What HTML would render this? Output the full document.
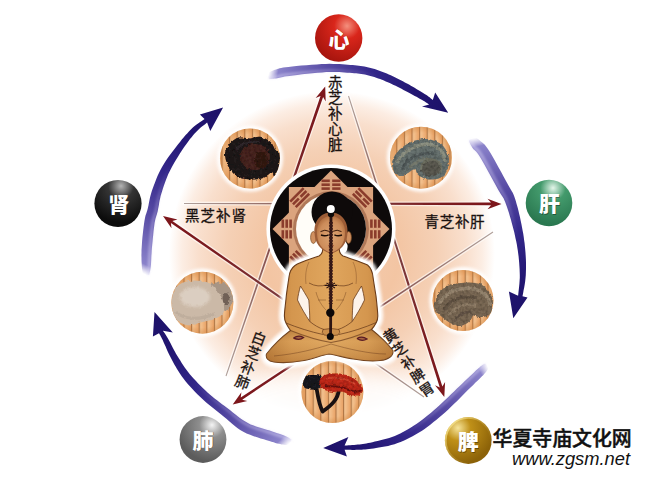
<!DOCTYPE html>
<html lang="zh"><head><meta charset="utf-8"><title>灵芝五行养生图</title>
<style>
html,body{margin:0;padding:0;background:#fff}
body{width:650px;height:477px;overflow:hidden;position:relative;font-family:"Liberation Sans","Noto Sans CJK SC",sans-serif}
svg{position:absolute;left:0;top:0;display:block}
.lb{font-family:"Liberation Sans","Noto Sans CJK SC",sans-serif;fill:#1a1210;font-weight:400;stroke:#1a1210;stroke-width:.3px}
.bt{font-family:"Liberation Sans","Noto Sans CJK SC",sans-serif;font-weight:900;font-size:21px}
.wm{font-family:"Liberation Sans","Noto Sans CJK SC",sans-serif;font-weight:500;font-size:19.9px;fill:#111}
.url{font-family:"Liberation Sans",sans-serif;font-style:italic;font-size:18px;fill:#111}
</style></head><body>
<svg width="650" height="477" viewBox="0 0 650 477">
<defs>
<filter id="b05" x="-10%" y="-10%" width="120%" height="120%"><feGaussianBlur stdDeviation=".6"/></filter>
<filter id="b1" x="-20%" y="-20%" width="140%" height="140%"><feGaussianBlur stdDeviation="1"/></filter>
<filter id="b10" x="-40%" y="-60%" width="180%" height="220%"><feGaussianBlur stdDeviation="11"/></filter>
<filter id="b2" x="-20%" y="-20%" width="140%" height="140%"><feGaussianBlur stdDeviation="1.8"/></filter>
<filter id="rough" x="-5%" y="-5%" width="110%" height="110%"><feTurbulence type="fractalNoise" baseFrequency=".35" numOctaves="2" seed="4" result="n"/><feDisplacementMap in="SourceGraphic" in2="n" scale="3.5" xChannelSelector="R" yChannelSelector="G" result="d"/><feColorMatrix in="n" type="matrix" values="0 0 0 0 0  0 0 0 0 0  0 0 0 0 0  .9 0 0 0 -.32" result="na"/><feComposite in="na" in2="d" operator="in" result="sp"/><feMerge><feMergeNode in="d"/><feMergeNode in="sp"/></feMerge><feGaussianBlur stdDeviation=".5"/></filter>
<filter id="rough2" x="-5%" y="-5%" width="110%" height="110%"><feTurbulence type="fractalNoise" baseFrequency=".3" numOctaves="2" seed="7" result="n"/><feDisplacementMap in="SourceGraphic" in2="n" scale="3" xChannelSelector="R" yChannelSelector="G"/><feGaussianBlur stdDeviation=".6"/></filter>
<radialGradient id="disc" gradientUnits="userSpaceOnUse" cx="332" cy="254" r="163"><stop offset="0" stop-color="#f5ceb2"/><stop offset=".41" stop-color="#f3c5a3"/><stop offset=".64" stop-color="#f5d0b5"/><stop offset=".82" stop-color="#f9dfcd"/><stop offset=".92" stop-color="#fcede3"/><stop offset="1" stop-color="#fff"/></radialGradient>
<linearGradient id="sg" x1="0" y1="0" x2="1" y2="0"><stop offset="0" stop-color="#f5c898"/><stop offset=".45" stop-color="#f1bb86"/><stop offset="1" stop-color="#e9a266"/></linearGradient><pattern id="stripes" patternUnits="userSpaceOnUse" x="1.1" y="0" width="7.6" height="10"><rect width="7.6" height="10" fill="url(#sg)"/><rect x="0" width="1.1" height="10" fill="#ad7444"/></pattern>
<linearGradient id="grim" gradientUnits="userSpaceOnUse" x1="448" y1="422" x2="480" y2="452"><stop offset="0" stop-color="#f4e08a" stop-opacity=".95"/><stop offset=".5" stop-color="#f4e08a" stop-opacity=".25"/><stop offset="1" stop-color="#f4e08a" stop-opacity="0"/></linearGradient>
<radialGradient id="mshade" cx=".5" cy=".5" r=".5"><stop offset=".8" stop-color="#c87830" stop-opacity="0"/><stop offset="1" stop-color="#c87830" stop-opacity=".35"/></radialGradient>
<linearGradient id="skin" x1="0" y1="0" x2="1" y2="0"><stop offset="0" stop-color="#b27232"/><stop offset=".2" stop-color="#d4964e"/><stop offset=".5" stop-color="#e0a65e"/><stop offset=".8" stop-color="#d4964e"/><stop offset="1" stop-color="#b27232"/></linearGradient>
<linearGradient id="legs" x1="0" y1="0" x2="0" y2="1"><stop offset="0" stop-color="#8a5424" stop-opacity=".35"/><stop offset=".35" stop-color="#e0ae68" stop-opacity=".3"/><stop offset="1" stop-color="#a86c30" stop-opacity=".45"/></linearGradient>
<radialGradient id="face" cx=".5" cy=".55" r=".6"><stop offset="0" stop-color="#dda472"/><stop offset=".7" stop-color="#cc8c5a"/><stop offset="1" stop-color="#aa6638"/></radialGradient>
<linearGradient id="ga1" gradientUnits="userSpaceOnUse" x1="268" y1="76.3" x2="448.2" y2="112.8">
<stop offset="0" stop-color="#a8a0d8" stop-opacity="0"/><stop offset=".05" stop-color="#8a82ca" stop-opacity="1"/><stop offset=".3" stop-color="#574ba4"/><stop offset=".55" stop-color="#33278a"/><stop offset=".8" stop-color="#221672"/><stop offset="1" stop-color="#1d1168"/></linearGradient>
<linearGradient id="ha1" gradientUnits="userSpaceOnUse" x1="268" y1="76.3" x2="448.2" y2="112.8">
<stop offset="0" stop-color="#dcd8f6" stop-opacity=".5"/><stop offset=".3" stop-color="#c8c0ee" stop-opacity=".34"/><stop offset=".6" stop-color="#b8b0e6" stop-opacity="0"/></linearGradient><linearGradient id="ga2" gradientUnits="userSpaceOnUse" x1="471.5" y1="138.5" x2="513.3" y2="318.2">
<stop offset="0" stop-color="#a8a0d8" stop-opacity="0"/><stop offset=".05" stop-color="#8a82ca" stop-opacity="1"/><stop offset=".3" stop-color="#574ba4"/><stop offset=".55" stop-color="#33278a"/><stop offset=".8" stop-color="#221672"/><stop offset="1" stop-color="#1d1168"/></linearGradient>
<linearGradient id="ha2" gradientUnits="userSpaceOnUse" x1="471.5" y1="138.5" x2="513.3" y2="318.2">
<stop offset="0" stop-color="#dcd8f6" stop-opacity=".5"/><stop offset=".3" stop-color="#c8c0ee" stop-opacity=".34"/><stop offset=".6" stop-color="#b8b0e6" stop-opacity="0"/></linearGradient><linearGradient id="ga3" gradientUnits="userSpaceOnUse" x1="487" y1="365" x2="323.2" y2="448">
<stop offset="0" stop-color="#a8a0d8" stop-opacity="0"/><stop offset=".05" stop-color="#8a82ca" stop-opacity="1"/><stop offset=".3" stop-color="#574ba4"/><stop offset=".55" stop-color="#33278a"/><stop offset=".8" stop-color="#221672"/><stop offset="1" stop-color="#1d1168"/></linearGradient>
<linearGradient id="ha3" gradientUnits="userSpaceOnUse" x1="487" y1="365" x2="323.2" y2="448">
<stop offset="0" stop-color="#dcd8f6" stop-opacity=".5"/><stop offset=".3" stop-color="#c8c0ee" stop-opacity=".34"/><stop offset=".6" stop-color="#b8b0e6" stop-opacity="0"/></linearGradient><linearGradient id="ga4" gradientUnits="userSpaceOnUse" x1="291" y1="442" x2="154.5" y2="312">
<stop offset="0" stop-color="#a8a0d8" stop-opacity="0"/><stop offset=".05" stop-color="#8a82ca" stop-opacity="1"/><stop offset=".3" stop-color="#574ba4"/><stop offset=".55" stop-color="#33278a"/><stop offset=".8" stop-color="#221672"/><stop offset="1" stop-color="#1d1168"/></linearGradient>
<linearGradient id="ha4" gradientUnits="userSpaceOnUse" x1="291" y1="442" x2="154.5" y2="312">
<stop offset="0" stop-color="#dcd8f6" stop-opacity=".5"/><stop offset=".3" stop-color="#c8c0ee" stop-opacity=".34"/><stop offset=".6" stop-color="#b8b0e6" stop-opacity="0"/></linearGradient><linearGradient id="ga5" gradientUnits="userSpaceOnUse" x1="146.2" y1="275" x2="223.1" y2="107.6">
<stop offset="0" stop-color="#a8a0d8" stop-opacity="0"/><stop offset=".05" stop-color="#8a82ca" stop-opacity="1"/><stop offset=".3" stop-color="#574ba4"/><stop offset=".55" stop-color="#33278a"/><stop offset=".8" stop-color="#221672"/><stop offset="1" stop-color="#1d1168"/></linearGradient>
<linearGradient id="ha5" gradientUnits="userSpaceOnUse" x1="146.2" y1="275" x2="223.1" y2="107.6">
<stop offset="0" stop-color="#dcd8f6" stop-opacity=".5"/><stop offset=".3" stop-color="#c8c0ee" stop-opacity=".34"/><stop offset=".6" stop-color="#b8b0e6" stop-opacity="0"/></linearGradient><linearGradient id="lA" gradientUnits="userSpaceOnUse" x1="226" y1="376" x2="325.2" y2="86.5">
<stop offset="0" stop-color="#b0a09a"/><stop offset=".25" stop-color="#96706a"/><stop offset=".55" stop-color="#7c3a3c"/><stop offset=".8" stop-color="#7a1c20"/><stop offset="1" stop-color="#7d161b"/></linearGradient><linearGradient id="lB" gradientUnits="userSpaceOnUse" x1="348.5" y1="96" x2="444.3" y2="397">
<stop offset="0" stop-color="#b0a09a"/><stop offset=".25" stop-color="#96706a"/><stop offset=".55" stop-color="#7c3a3c"/><stop offset=".8" stop-color="#7a1c20"/><stop offset="1" stop-color="#7d161b"/></linearGradient><linearGradient id="lC" gradientUnits="userSpaceOnUse" x1="424" y1="397" x2="163" y2="216">
<stop offset="0" stop-color="#b0a09a"/><stop offset=".25" stop-color="#96706a"/><stop offset=".55" stop-color="#7c3a3c"/><stop offset=".8" stop-color="#7a1c20"/><stop offset="1" stop-color="#7d161b"/></linearGradient><linearGradient id="lD" gradientUnits="userSpaceOnUse" x1="184" y1="203.5" x2="501.5" y2="204">
<stop offset="0" stop-color="#b0a09a"/><stop offset=".25" stop-color="#96706a"/><stop offset=".55" stop-color="#7c3a3c"/><stop offset=".8" stop-color="#7a1c20"/><stop offset="1" stop-color="#7d161b"/></linearGradient><linearGradient id="lE" gradientUnits="userSpaceOnUse" x1="493" y1="232" x2="232.7" y2="404.4">
<stop offset="0" stop-color="#b0a09a"/><stop offset=".25" stop-color="#96706a"/><stop offset=".55" stop-color="#7c3a3c"/><stop offset=".8" stop-color="#7a1c20"/><stop offset="1" stop-color="#7d161b"/></linearGradient><clipPath id="mc0"><circle cx="250" cy="158.5" r="30"/></clipPath><clipPath id="mc1"><circle cx="421" cy="157.7" r="31"/></clipPath><clipPath id="mc2"><circle cx="463" cy="300.5" r="30.5"/></clipPath><clipPath id="mc3"><circle cx="332.4" cy="392" r="31"/></clipPath><clipPath id="mc4"><circle cx="202.4" cy="302.7" r="31"/></clipPath><radialGradient id="bred" gradientUnits="userSpaceOnUse" cx="347" cy="26" r="36.735"><stop offset="0" stop-color="#f4907e"/><stop offset=".35" stop-color="#d9261b"/><stop offset="1" stop-color="#a8150e"/></radialGradient><radialGradient id="bgrn" gradientUnits="userSpaceOnUse" cx="553" cy="188" r="36.115"><stop offset="0" stop-color="#e4f6ea"/><stop offset=".35" stop-color="#439a6c"/><stop offset="1" stop-color="#2a7850"/></radialGradient><radialGradient id="bgld" gradientUnits="userSpaceOnUse" cx="458" cy="428" r="36.269999999999996"><stop offset="0" stop-color="#f6e49a"/><stop offset=".35" stop-color="#bf9018"/><stop offset="1" stop-color="#8c6208"/></radialGradient><radialGradient id="bgry" gradientUnits="userSpaceOnUse" cx="212" cy="425" r="36.269999999999996"><stop offset="0" stop-color="#f4f4f4"/><stop offset=".35" stop-color="#8e8e8e"/><stop offset="1" stop-color="#5c5c5c"/></radialGradient><radialGradient id="bblk" gradientUnits="userSpaceOnUse" cx="121" cy="186" r="36.580000000000005"><stop offset="0" stop-color="#b4b4b4"/><stop offset=".35" stop-color="#343434"/><stop offset="1" stop-color="#0c0c0c"/></radialGradient>
</defs>
<rect width="650" height="477" fill="#fff"/>
<circle cx="332" cy="254" r="163" fill="url(#disc)"/>
<ellipse cx="331" cy="402" rx="102" ry="34" fill="#fff" opacity=".85" filter="url(#b10)"/>
<path d="M226.5 376.2 L323.1 96.9 L325.7 101.5 L325.2 86.5 L315.6 98 L320.5 96 L225.5 375.8Z" fill="#fff" stroke="#fff" stroke-width="2.6" opacity=".6" filter="url(#b05)"/><path d="M226.5 376.2 L323.1 96.9 L325.7 101.5 L325.2 86.5 L315.6 98 L320.5 96 L225.5 375.8Z" fill="url(#lA)"/><path d="M348 96.2 L439.8 387.4 L435 385.3 L444.3 397 L445.1 382.1 L442.4 386.6 L349 95.8Z" fill="#fff" stroke="#fff" stroke-width="2.6" opacity=".6" filter="url(#b05)"/><path d="M348 96.2 L439.8 387.4 L435 385.3 L444.3 397 L445.1 382.1 L442.4 386.6 L349 95.8Z" fill="url(#lB)"/><path d="M424.3 396.6 L172.4 220.9 L177.5 219.6 L163 216 L171.5 228.3 L170.9 223.1 L423.7 397.4Z" fill="#fff" stroke="#fff" stroke-width="2.6" opacity=".6" filter="url(#b05)"/><path d="M424.3 396.6 L172.4 220.9 L177.5 219.6 L163 216 L171.5 228.3 L170.9 223.1 L423.7 397.4Z" fill="url(#lC)"/><path d="M184 204 L491 205.3 L487.5 209.3 L501.5 204 L487.5 198.7 L491 202.6 L184 203Z" fill="#fff" stroke="#fff" stroke-width="2.6" opacity=".6" filter="url(#b05)"/><path d="M184 204 L491 205.3 L487.5 209.3 L501.5 204 L487.5 198.7 L491 202.6 L184 203Z" fill="url(#lD)"/><path d="M492.7 231.6 L240.7 397.5 L241.4 392.3 L232.7 404.4 L247.3 401.1 L242.2 399.7 L493.3 232.4Z" fill="#fff" stroke="#fff" stroke-width="2.6" opacity=".6" filter="url(#b05)"/><path d="M492.7 231.6 L240.7 397.5 L241.4 392.3 L232.7 404.4 L247.3 401.1 L242.2 399.7 L493.3 232.4Z" fill="url(#lE)"/>
<circle cx="250" cy="158.5" r="33.2" fill="#fff" opacity=".9" filter="url(#b2)"/><circle cx="250" cy="158.5" r="30" fill="url(#stripes)"/><circle cx="250" cy="158.5" r="30" fill="url(#mshade)"/><g clip-path="url(#mc0)"><g filter="url(#rough)">
<path d="M225 153.5 L225.3 151.6 L225.9 149.8 L226.8 148 L227.8 146.4 L228.9 144.9 L230 143.5 L231.2 142.2 L232.5 141 L233.8 139.9 L235.3 138.9 L236.9 138.1 L238.5 137.6 L240.3 137.4 L242.2 137.5 L244.1 137.7 L246.1 138.1 L248.1 138.3 L250 138.4 L251.8 138.2 L253.5 137.8 L255.2 137.3 L256.9 136.9 L258.6 136.7 L260.3 136.8 L262.1 137.2 L263.9 137.9 L265.7 138.7 L267.4 139.7 L269 140.7 L270.4 141.8 L271.5 143 L272.5 144.5 L273.3 146 L274 147.5 L274.7 148.9 L275.4 150 L276.2 150.7 L277 151.1 L277.9 151.4 L278.6 151.8 L279.2 152.4 L279.6 153.5 L279.8 155.2 L279.8 157.4 L279.7 159.8 L279.4 162.4 L279.1 164.8 L278.7 167 L278.2 169 L277.5 171.1 L276.7 173.2 L275.9 174.9 L275.1 176.2 L274.5 177 L274.1 176.9 L273.8 176 L273.5 174.8 L273.2 173.4 L272.7 172.4 L272 172 L271 172.4 L269.9 173.3 L268.5 174.5 L267.1 175.8 L265.5 176.9 L263.7 177.8 L261.7 178.4 L259.5 178.9 L257.2 179.2 L254.7 179.5 L252.3 179.6 L250 179.5 L247.7 179.3 L245.4 178.9 L243.1 178.4 L240.8 177.8 L238.7 177 L236.8 176 L235.1 174.9 L233.5 173.6 L232 172.1 L230.7 170.5 L229.5 168.8 L228.5 167 L227.5 165 L226.7 162.7 L225.9 160.3 L225.4 157.9 L225 155.6Z" fill="#211a1b"/>
<ellipse cx="255" cy="157" rx="15" ry="13" fill="#4e2a22" opacity=".9"/>
<ellipse cx="261" cy="160" rx="7" ry="8" fill="#2e1614" opacity=".75"/>
<path d="M236 150 C240 144 250 141 260 142" fill="none" stroke="#3a3038" stroke-width="2.5" opacity=".7"/>
</g></g><circle cx="421" cy="157.7" r="34.2" fill="#fff" opacity=".9" filter="url(#b2)"/><circle cx="421" cy="157.7" r="31" fill="url(#stripes)"/><circle cx="421" cy="157.7" r="31" fill="url(#mshade)"/><g clip-path="url(#mc1)"><g filter="url(#rough)">
<path d="M393.4 170.3 L392.9 168.9 L392.5 167.3 L392.2 165.6 L392.1 163.8 L392.2 162 L392.6 160.2 L393.3 158.4 L394.2 156.5 L395.4 154.6 L396.8 152.8 L398.3 151 L400 149.3 L401.9 147.7 L404 146.1 L406.3 144.6 L408.7 143.2 L411.1 142 L413.5 141 L415.9 140.2 L418.5 139.7 L421.1 139.3 L423.6 139.1 L426.2 139.1 L428.6 139.3 L431 139.8 L433.4 140.4 L435.8 141.3 L438.1 142.4 L440.2 143.6 L442 145 L443.6 146.6 L445 148.5 L446.3 150.5 L447.3 152.6 L448.1 154.8 L448.7 156.9 L449 159.1 L448.9 161.5 L448.7 163.9 L448.2 166.2 L447.7 168.4 L447 170.3 L446.2 172 L445.4 173.5 L444.3 174.8 L443.2 175.9 L441.9 177 L440.4 177.8 L438.7 178.5 L436.8 179 L434.7 179.4 L432.6 179.6 L430.5 179.6 L428.6 179.5 L426.8 179.2 L424.9 178.6 L423.1 177.9 L421.4 177 L419.9 176.2 L418.6 175.3 L417.6 174.3 L416.9 173.1 L416.4 171.8 L415.8 170.7 L415.2 169.8 L414.4 169.4 L413.3 169.5 L412.1 170.1 L410.9 171 L409.5 172 L408.1 172.9 L406.8 173.6 L405.4 174.2 L404 174.8 L402.5 175.4 L401.1 175.9 L399.7 176.1 L398.5 176 L397.4 175.6 L396.4 174.9 L395.5 173.9 L394.7 172.8 L394 171.6Z" fill="#687270"/>
<path d="M397 163 C402 151 416 144 430 144 C440 146 445 154 445 162" fill="none" stroke="#9a9c88" stroke-width="3.5" opacity=".75"/>
<path d="M402 169 C408 157 422 151 434 154" fill="none" stroke="#4a5254" stroke-width="3" opacity=".7"/>
<path d="M410 168 C414 161 424 158 432 160" fill="none" stroke="#80806c" stroke-width="2.5" opacity=".6"/>
<ellipse cx="431" cy="167.5" rx="10.5" ry="9" fill="#57544a" opacity=".8"/><path d="M421 170 C421 162 428 158 435 160 C441 162 443 168 440 173" fill="none" stroke="#7c7e6e" stroke-width="2.2" opacity=".7"/>
</g></g><circle cx="463" cy="300.5" r="33.7" fill="#fff" opacity=".9" filter="url(#b2)"/><circle cx="463" cy="300.5" r="30.5" fill="url(#stripes)"/><circle cx="463" cy="300.5" r="30.5" fill="url(#mshade)"/><g clip-path="url(#mc2)"><g filter="url(#rough)">
<path d="M434.2 303.5 L434.7 301.8 L435.5 299.8 L436.4 297.7 L437.5 295.6 L438.7 293.5 L440 291.8 L441.3 290.3 L442.8 289 L444.3 287.8 L446 286.8 L447.9 285.8 L450 285 L452.5 284.3 L455.2 283.7 L458.2 283.2 L461.2 282.9 L464.2 282.7 L467 282.6 L469.7 282.6 L472.4 282.8 L475 283 L477.5 283.5 L479.9 284.1 L482 285 L483.9 286.2 L485.7 287.7 L487.3 289.4 L488.7 291.2 L490 293.1 L491 295 L491.8 296.9 L492.4 299 L492.8 301.1 L493.1 303.2 L493.1 305.2 L493 307 L492.7 308.7 L492.2 310.3 L491.6 311.8 L490.8 313.2 L489.8 314.3 L488.7 315.3 L487.3 316 L485.6 316.5 L483.7 316.8 L481.8 316.9 L480.1 317 L478.6 317 L477.5 316.8 L476.6 316.4 L475.8 315.8 L475.1 315.4 L474.4 315.1 L473.6 315.3 L472.8 316 L472.1 317 L471.3 318.3 L470.5 319.7 L469.6 320.9 L468.6 322 L467.4 322.9 L466.1 323.8 L464.6 324.6 L463.1 325.3 L461.6 325.8 L460 326 L458.4 325.9 L456.8 325.6 L455.1 325.1 L453.4 324.5 L451.7 323.7 L450 322.8 L448.3 321.8 L446.5 320.6 L444.7 319.2 L443 317.8 L441.4 316.5 L440 315.3 L438.8 314.2 L437.8 313.2 L436.9 312.2 L436.2 311.3 L435.5 310.4 L435 309.4 L434.5 308.5 L434.2 307.6 L433.9 306.8 L433.8 305.9 L433.9 304.8Z" fill="#7a6955"/>
<path d="M439 304 C444 292 460 286.5 474 289 C484 291.5 490 298 490 306" fill="none" stroke="#a08f78" stroke-width="3.5" opacity=".8"/>
<path d="M444 310 C449 299 464 294.5 477 298" fill="none" stroke="#5c4d40" stroke-width="3" opacity=".75"/>
<path d="M449 316 C454 306 466 302.5 476 305.5" fill="none" stroke="#9a8870" stroke-width="3" opacity=".7"/>
<path d="M455 321 C458 314 466 311 472 313" fill="none" stroke="#5e5044" stroke-width="2.5" opacity=".7"/>
</g></g><circle cx="332.4" cy="392" r="34.2" fill="#fff" opacity=".9" filter="url(#b2)"/><circle cx="332.4" cy="392" r="31" fill="url(#stripes)"/><circle cx="332.4" cy="392" r="31" fill="url(#mshade)"/><g clip-path="url(#mc3)">
<path d="M316.5 388 C318 397 319 405 322.7 411.5 M339 389.5 C338 399 332 405 322.7 411.5" fill="none" stroke="#191112" stroke-width="3.8" stroke-linecap="round"/>
<g filter="url(#rough)">
<path d="M302.6 382 L302.7 381 L302.9 380 L303.2 379 L303.7 378 L304.3 377.2 L305 376.5 L305.9 376 L307 375.6 L308.1 375.3 L309.4 375.2 L310.7 375.1 L312 375 L313.4 375 L314.8 375 L316.3 375 L317.8 375.2 L319 375.5 L320 376 L320.7 376.7 L321.1 377.6 L321.4 378.7 L321.5 379.8 L321.6 380.9 L321.5 382 L321.4 383.1 L321.2 384.3 L320.8 385.6 L320.4 386.7 L319.8 387.7 L319 388.5 L318 389 L316.7 389.3 L315.2 389.5 L313.8 389.5 L312.3 389.5 L311 389.4 L309.8 389.3 L308.6 389.1 L307.4 388.8 L306.3 388.5 L305.3 388.1 L304.5 387.5 L303.9 386.8 L303.4 385.9 L303 385 L302.7 384 L302.6 383Z" fill="#1c1a24"/>
<path d="M319.4 381.8 L319.7 380.6 L320.3 379.3 L321.1 378 L322.2 376.9 L323.5 375.8 L325 375 L326.8 374.4 L328.9 373.9 L331.3 373.6 L333.8 373.4 L336.3 373.4 L338.6 373.5 L340.9 373.8 L343.3 374.4 L345.6 375 L347.9 375.8 L350.1 376.7 L352 377.6 L353.8 378.6 L355.4 379.7 L356.9 380.9 L358.2 382.1 L359.4 383.3 L360.4 384.4 L361.2 385.4 L362 386.4 L362.5 387.4 L362.9 388.4 L363 389.3 L363 390.2 L362.7 391.1 L362.2 392.1 L361.5 393.1 L360.7 393.9 L359.7 394.7 L358.7 395.2 L357.5 395.5 L356.2 395.6 L354.8 395.6 L353.3 395.5 L351.8 395.3 L350.4 395 L349 394.6 L347.7 393.9 L346.3 393.2 L344.9 392.5 L343.5 391.9 L342 391.5 L340.4 391.4 L338.7 391.4 L337 391.6 L335.3 391.8 L333.6 391.9 L332 391.8 L330.4 391.6 L328.9 391.3 L327.4 390.9 L326 390.4 L324.6 389.8 L323.5 389 L322.4 388.1 L321.4 386.9 L320.6 385.7 L319.9 384.3 L319.5 383Z" fill="#c02a1c"/>
<path d="M325 386 C332 386.5 338 386 343 387.5 C350 391 356 393 361 390.5" fill="none" stroke="#5e1410" stroke-width="2.2" opacity=".8"/>
<path d="M326 379 C334 376 346 378 354 383" fill="none" stroke="#e05a40" stroke-width="1.8" opacity=".6"/>
</g></g><circle cx="202.4" cy="302.7" r="34.2" fill="#fff" opacity=".9" filter="url(#b2)"/><circle cx="202.4" cy="302.7" r="31" fill="url(#stripes)"/><circle cx="202.4" cy="302.7" r="31" fill="url(#mshade)"/><g clip-path="url(#mc4)"><g filter="url(#rough2)">
<path d="M210 284.5 L210.9 283.8 L212.4 283.2 L214.2 282.8 L216.3 282.6 L218.2 282.5 L220 282.5 L221.6 282.7 L223.3 283 L224.9 283.5 L226.4 284.1 L227.8 285 L229 286 L230 287.3 L230.9 288.9 L231.7 290.6 L232.3 292.4 L232.7 294.3 L233 296 L233.1 297.7 L232.9 299.5 L232.6 301.3 L232.2 303 L231.6 304.6 L231 306 L230.2 307.3 L229.3 308.6 L228.3 309.7 L227.2 310.6 L226.1 311 L225 311 L223.9 310.3 L222.7 309.1 L221.4 307.4 L220.2 305.6 L219.1 303.7 L218 302 L217 300.4 L216.1 298.6 L215.2 296.9 L214.4 295.2 L213.7 293.5 L213 292 L212.2 290.5 L211.4 289.1 L210.6 287.8 L210 286.5 L209.7 285.4Z" fill="#a79585"/>
<ellipse cx="226" cy="299" rx="3.5" ry="6" fill="#5e5048" opacity=".75"/>
<path d="M171.8 298.5 L172.3 296.5 L172.8 294.4 L173.6 292.3 L174.5 290.3 L175.5 288.4 L176.8 286.8 L178.3 285.4 L180 284.2 L181.9 283.1 L184 282.2 L186.2 281.5 L188.5 281 L191.1 280.7 L194 280.6 L197.1 280.7 L200.1 281 L202.9 281.3 L205.3 281.8 L207.2 282.3 L208.7 282.9 L210 283.6 L211.2 284.5 L212.4 285.5 L213.7 286.8 L215.2 288.3 L216.7 290.1 L218.3 292.1 L219.7 294.2 L221 296.4 L222 298.5 L222.8 300.7 L223.4 303.1 L223.9 305.6 L224.1 307.9 L224.1 310.1 L223.7 312 L222.9 313.5 L221.8 314.8 L220.4 315.9 L218.8 316.9 L217.1 317.8 L215.3 318.6 L213.4 319.4 L211.2 320 L209 320.5 L206.6 321 L204.3 321.5 L202 322 L199.7 322.7 L197.4 323.4 L195.2 324.2 L192.9 324.8 L190.6 325.2 L188.5 325.3 L186.4 325 L184.2 324.4 L182.1 323.6 L180.1 322.7 L178.3 321.5 L176.8 320.3 L175.5 318.9 L174.5 317.3 L173.6 315.6 L172.8 313.7 L172.3 311.8 L171.8 310 L171.5 308.2 L171.2 306.3 L171.2 304.3 L171.2 302.4 L171.5 300.4Z" fill="#cbb9a7"/>
<ellipse cx="195" cy="297" rx="15" ry="10" fill="#e0d4c8" opacity=".8" filter="url(#b2)"/>
<path d="M176 312 C184 320 200 320 214 314" fill="none" stroke="#b8a696" stroke-width="3" opacity=".6"/>
</g></g>
<circle cx="331" cy="229" r="64.6" fill="#fff"/><circle cx="331" cy="229" r="61" fill="#0e0a0a"/>
<polygon points="331,170.5 389.5,229 331,287.5 272.5,229" fill="#dba47e"/><polygon points="373.1,186.9 373.1,271.1 288.9,271.1 288.9,186.9" fill="#dba47e"/>
<g transform="rotate(0 331 229)"><rect x="321.5" y="179.5" width="19" height="2.6" fill="#8a3c2c"/><rect x="321.5" y="183.4" width="19" height="2.6" fill="#8a3c2c"/><rect x="321.5" y="187.3" width="19" height="2.6" fill="#8a3c2c"/><rect x="329.8" y="179" width="2.4" height="11.4" fill="#dba47e"/></g><g transform="rotate(45 331 229)"><rect x="321.5" y="179.5" width="19" height="2.6" fill="#8a3c2c"/><rect x="321.5" y="183.4" width="19" height="2.6" fill="#8a3c2c"/><rect x="321.5" y="187.3" width="19" height="2.6" fill="#8a3c2c"/><rect x="329.8" y="183" width="2.4" height="3.4" fill="#dba47e"/></g><g transform="rotate(90 331 229)"><rect x="321.5" y="179.5" width="19" height="2.6" fill="#8a3c2c"/><rect x="321.5" y="183.4" width="19" height="2.6" fill="#8a3c2c"/><rect x="321.5" y="187.3" width="19" height="2.6" fill="#8a3c2c"/><rect x="329.8" y="179" width="2.4" height="11.4" fill="#dba47e"/></g><g transform="rotate(135 331 229)"><rect x="321.5" y="179.5" width="19" height="2.6" fill="#8a3c2c"/><rect x="321.5" y="183.4" width="19" height="2.6" fill="#8a3c2c"/><rect x="321.5" y="187.3" width="19" height="2.6" fill="#8a3c2c"/><rect x="329.8" y="183" width="2.4" height="3.4" fill="#dba47e"/></g><g transform="rotate(180 331 229)"><rect x="321.5" y="179.5" width="19" height="2.6" fill="#8a3c2c"/><rect x="321.5" y="183.4" width="19" height="2.6" fill="#8a3c2c"/><rect x="321.5" y="187.3" width="19" height="2.6" fill="#8a3c2c"/><rect x="329.8" y="179" width="2.4" height="11.4" fill="#dba47e"/></g><g transform="rotate(225 331 229)"><rect x="321.5" y="179.5" width="19" height="2.6" fill="#8a3c2c"/><rect x="321.5" y="183.4" width="19" height="2.6" fill="#8a3c2c"/><rect x="321.5" y="187.3" width="19" height="2.6" fill="#8a3c2c"/><rect x="329.8" y="183" width="2.4" height="3.4" fill="#dba47e"/></g><g transform="rotate(270 331 229)"><rect x="321.5" y="179.5" width="19" height="2.6" fill="#8a3c2c"/><rect x="321.5" y="183.4" width="19" height="2.6" fill="#8a3c2c"/><rect x="321.5" y="187.3" width="19" height="2.6" fill="#8a3c2c"/><rect x="329.8" y="179" width="2.4" height="11.4" fill="#dba47e"/></g><g transform="rotate(315 331 229)"><rect x="321.5" y="179.5" width="19" height="2.6" fill="#8a3c2c"/><rect x="321.5" y="183.4" width="19" height="2.6" fill="#8a3c2c"/><rect x="321.5" y="187.3" width="19" height="2.6" fill="#8a3c2c"/><rect x="329.8" y="183" width="2.4" height="3.4" fill="#dba47e"/></g>
<circle cx="331" cy="229" r="38" fill="#b07858"/><circle cx="331" cy="229" r="35" fill="#fffdf8"/>
<path d="M331 194 A35 35 0 0 1 331 264 Z" fill="#0e0a0a"/><circle cx="332" cy="212" r="20.5" fill="#0e0a0a"/>
<path d="M344 240 q5 4 3 10 q-2 5 -6 2 z" fill="#fff"/><path d="M317 240 q-4 4 -3 9 q2 4 5 2 z" fill="#fff"/>
<g>
<path d="M323 245 C323 251 322.5 254 319 256 C311 259 300 262 295 265.5 C291 268.5 289.5 272 289 277 C288 284 287 290 286.3 296 C285.5 305 284.4 311 284.4 316 C284.4 319 285 321 286 323 C287.5 326 289 328.5 290.5 330.5 C282 337 273 345.5 266.5 354 C265.5 358 268 361 274 362 C284 363.5 296 362 304 360.5 C314 358.5 322 355 329 354 C336 355 346 358 353.5 359 C362 360.5 372 361.5 380 360.5 C388 359.5 394 356 392.8 350.5 C387 343 379 335.5 371.5 329.5 C373.5 327.5 375 325 376.3 322.5 C377.3 320.5 377.8 318.5 377.8 316 C377.8 313 377 305 376 296 C375 290 374 284 373 277 C372.5 272 371 268 367.5 265 C362 262 351 259 343 256 C339.5 254 339 251 339 245 Z" fill="#fff" stroke="#fff" stroke-width="11" stroke-linejoin="round" filter="url(#b2)" opacity=".9"/><path d="M323 245 C323 251 322.5 254 319 256 C311 259 300 262 295 265.5 C291 268.5 289.5 272 289 277 C288 284 287 290 286.3 296 C285.5 305 284.4 311 284.4 316 C284.4 319 285 321 286 323 C287.5 326 289 328.5 290.5 330.5 C282 337 273 345.5 266.5 354 C265.5 358 268 361 274 362 C284 363.5 296 362 304 360.5 C314 358.5 322 355 329 354 C336 355 346 358 353.5 359 C362 360.5 372 361.5 380 360.5 C388 359.5 394 356 392.8 350.5 C387 343 379 335.5 371.5 329.5 C373.5 327.5 375 325 376.3 322.5 C377.3 320.5 377.8 318.5 377.8 316 C377.8 313 377 305 376 296 C375 290 374 284 373 277 C372.5 272 371 268 367.5 265 C362 262 351 259 343 256 C339.5 254 339 251 339 245 Z" fill="#fff" stroke="#fff" stroke-width="6" stroke-linejoin="round"/>
<path d="M323 245 C323 251 322.5 254 319 256 C311 259 300 262 295 265.5 C291 268.5 289.5 272 289 277 C288 284 287 290 286.3 296 C285.5 305 284.4 311 284.4 316 C284.4 319 285 321 286 323 C287.5 326 289 328.5 290.5 330.5 C282 337 273 345.5 266.5 354 C265.5 358 268 361 274 362 C284 363.5 296 362 304 360.5 C314 358.5 322 355 329 354 C336 355 346 358 353.5 359 C362 360.5 372 361.5 380 360.5 C388 359.5 394 356 392.8 350.5 C387 343 379 335.5 371.5 329.5 C373.5 327.5 375 325 376.3 322.5 C377.3 320.5 377.8 318.5 377.8 316 C377.8 313 377 305 376 296 C375 290 374 284 373 277 C372.5 272 371 268 367.5 265 C362 262 351 259 343 256 C339.5 254 339 251 339 245 Z" fill="url(#skin)" stroke="#6a3c1a" stroke-width="1.1"/>
<path d="M266.5 354 C273 345.5 282 337 290.5 330.5 C303 335.5 318 340.5 331 342.5 C344 340.5 359 335.5 371.5 329.5 C379 335.5 387 343 392.8 350.5 C394 356 388 359.5 380 360.5 C372 361.5 362 360.5 353.5 359 C346 358 336 355 329 354 C322 355 314 358.5 304 360.5 C296 362 284 363.5 274 362 C268 361 265.5 358 266.5 354 Z" fill="url(#legs)"/>
<path d="M300.5 286 C299 291 298 296 297.5 300 C301 307.5 305.5 315 309.8 321.5 C309.8 314 309.3 306 308.8 300 C306 295 303 290 300.5 286 Z" fill="#fdf3ea" stroke="#6a3c1c" stroke-width=".8"/>
<path d="M361.5 286 C363 291 364 296 364.5 300 C361 307.5 356.5 315 352.2 321.5 C352.2 314 352.7 306 353.2 300 C356 295 359 290 361.5 286 Z" fill="#fdf3ea" stroke="#6a3c1c" stroke-width=".8"/>
<path d="M286 323 C297 327.5 311 332 323 334.5 M376.3 322.5 C365 327.5 351 332 339 334.5 M309.8 321.5 C314 325 319 328 324 329.5 M352.2 321.5 C348 325 343 328 338 329.5" fill="none" stroke="#6a3c1c" stroke-width="1" opacity=".75"/><path d="M323 329.5 q8 -2 16 0 q2 3 -1 5.5 q-7 1.5 -14 0 q-3 -2.5 -1 -5.5 z" fill="#c88c4a" stroke="#6a3c1c" stroke-width=".8" opacity=".9"/>
<path d="M290.5 330.5 C303 335.5 318 340.5 331 342.5 C344 340.5 359 335.5 371.5 329.5" fill="none" stroke="#6a3c1c" stroke-width="1.1" opacity=".7"/>
<path d="M274 356 C296 354 316 349 331 344 C348 349 370 354 386 354" fill="none" stroke="#6a3c1c" stroke-width="1" opacity=".45"/>
<path d="M309 283 q9 5 18 1.5 M353 283 q-9 5 -18 1.5" fill="none" stroke="#6a3c1c" stroke-width="1" opacity=".7"/>
<path d="M309 262 C306 268 305 276 306 284 M353 262 C356 268 357 276 356 284" fill="none" stroke="#6a3c1c" stroke-width=".8" opacity=".45"/>
<path d="M316 292 C318 300 322 306 326 310 M346 292 C344 300 340 306 336 310 M318 300 h8 M344 300 h-8" fill="none" stroke="#6a3c1c" stroke-width=".8" opacity=".5"/>
<ellipse cx="313.4" cy="237.5" rx="2.8" ry="6" fill="#d09060" stroke="#7a4a22" stroke-width=".7"/><ellipse cx="348.6" cy="237.5" rx="2.8" ry="6" fill="#d09060" stroke="#7a4a22" stroke-width=".7"/>
<path d="M314.5 233 C313.5 221 321 212.5 331 212.5 C341 212.5 348.5 221 347.5 233 C347 243 342 250 331 254 C320 250 315 243 314.5 233 Z" fill="#9c5c36"/>
<path d="M317 234 C316 224 322 216 331 216 C340 216 346 224 345 234 C344.5 243 341 249.5 331 253 C321 249.5 317.5 243 317 234 Z" fill="url(#face)"/>
<path d="M320.5 231.6 q4.500 -2.6 8.400 -.3 M333.1 231.300 q3.900 -2.300 8.400 .3" fill="none" stroke="#3a1a0a" stroke-width="1"/>
<path d="M321 235 q4 1.600 7.600 -.2 M334.400 234.8 q3.600 1.800 7.600 .2" fill="none" stroke="#1a0c06" stroke-width="1.400"/>
<path d="M328.500 245.500 q2.500 1 5 0" fill="none" stroke="#8a3a24" stroke-width="1.100"/>
<path d="M331 214 L330.600 339" stroke="#2c1412" stroke-width="2.800"/>
<path d="M331 222 L330.800 304" stroke="#3c1a18" stroke-width="4" stroke-dasharray="1.700 1.300" opacity=".85"/>
<circle cx="331" cy="214" r="3.200" fill="#0e0a0a"/>
<circle cx="330.800" cy="209" r="4" fill="#fff"/>
<circle cx="330.3" cy="312.8" r="4.2" fill="#0c0808"/><circle cx="330.3" cy="336.6" r="3.5" fill="#0c0808"/>
<path d="M324.500 285.500 h12.500 M326.500 283 l8.500 5 M326.500 288 l8.500 -5" stroke="#2a1414" stroke-width="1.100"/>
<path d="M293.5 338 q5 -3.5 10 -.5 q-4 3.5 -10 .5 M357 338.5 q5 -3 10 .5 q-5 3 -10 -.5" fill="#7a3030" fill-opacity=".5" stroke="#5a1c24" stroke-width="1.4"/>
</g>
<path d="M267.1 73.4 L267.7 73.1 L268.3 72.8 L269.2 72.3 L270.1 71.8 L271.2 71.2 L272.4 70.7 L273.6 70.2 L274.9 69.7 L276.1 69.4 L277.1 69 L278.3 68.7 L279.6 68.3 L281.2 68 L283.2 67.6 L285.6 67.3 L288.5 66.9 L292.1 66.5 L296.4 66.1 L301.2 65.6 L306.4 65.2 L311.6 64.8 L316.8 64.4 L321.6 64.1 L325.8 63.9 L329.6 63.8 L333.2 63.9 L336.5 64 L339.6 64.1 L342.5 64.3 L345.2 64.5 L347.8 64.8 L350.3 65 L352.7 65.1 L354.8 65.3 L356.9 65.5 L358.8 65.7 L360.7 66 L362.6 66.2 L364.5 66.6 L366.5 67 L368.6 67.5 L370.6 68 L372.6 68.5 L374.7 69.1 L376.7 69.8 L378.7 70.5 L380.7 71.2 L382.7 71.9 L384.8 72.7 L386.8 73.6 L388.8 74.4 L390.8 75.3 L392.8 76.3 L394.9 77.2 L396.8 78.2 L398.8 79.2 L400.8 80.2 L402.9 81.3 L404.9 82.4 L407 83.5 L409 84.6 L410.9 85.7 L412.8 86.8 L414.6 87.8 L416.4 88.9 L418.1 89.9 L419.9 91 L421.5 92 L423.1 93 L424.6 93.9 L426 94.8 L427.2 95.6 L428.3 96.4 L429.3 97.1 L430.1 97.7 L430.9 98.4 L431.5 98.9 L432 99.3 L432.4 99.7 L432.8 100 L435.2 92.4 L448.2 112.8 L422 106.5 L429.2 104.6 L428.8 104.3 L428.3 104 L427.8 103.6 L427.2 103.2 L426.5 102.7 L425.7 102.2 L424.8 101.6 L423.8 101 L422.6 100.3 L421.2 99.5 L419.7 98.7 L418.1 97.8 L416.5 96.8 L414.7 95.9 L413 94.9 L411.2 94 L409.4 93 L407.5 92 L405.5 90.9 L403.5 89.9 L401.5 88.8 L399.5 87.8 L397.5 86.8 L395.6 85.8 L393.6 84.9 L391.7 84 L389.7 83.1 L387.8 82.2 L385.8 81.4 L383.9 80.5 L382 79.8 L380.1 79.1 L378.2 78.4 L376.2 77.7 L374.3 77.1 L372.4 76.5 L370.5 76 L368.6 75.5 L366.8 75 L364.9 74.6 L363.1 74.3 L361.3 74 L359.6 73.7 L357.9 73.5 L356.1 73.3 L354.2 73.2 L352.1 73 L349.7 72.8 L347.2 72.7 L344.6 72.5 L341.9 72.3 L339.1 72.1 L336.2 72 L333.1 71.9 L329.7 72 L326.2 72.1 L322.1 72.4 L317.4 72.7 L312.4 73.2 L307.2 73.8 L302.1 74.3 L297.3 74.9 L293.1 75.4 L289.5 75.9 L286.8 76.2 L284.7 76.6 L283 76.9 L281.7 77.2 L280.6 77.5 L279.5 77.8 L278.4 78 L277.1 78.3 L275.8 78.5 L274.6 78.6 L273.4 78.7 L272.3 78.8 L271.2 78.9 L270.3 79 L269.5 79.1 L268.9 79.2Z" fill="url(#ga1)"/><path d="M268.3 77.2 L268.9 77 L269.6 76.8 L270.5 76.6 L271.5 76.4 L272.6 76.1 L273.8 75.8 L275 75.6 L276.3 75.3 L277.6 75 L278.7 74.7 L279.8 74.4 L281 74.1 L282.4 73.8 L284.2 73.5 L286.4 73.1 L289.2 72.7 L292.7 72.3 L297 71.8 L301.8 71.3 L306.9 70.8 L312.1 70.3 L317.2 69.8 L321.9 69.5 L326.1 69.2 L329.7 69.1 L333.1 69.1 L336.3 69.2 L339.3 69.3 L342.1 69.5 L344.8 69.7 L347.4 69.9 L349.9 70.1 L352.3 70.2 L354.4 70.4 L356.4 70.6 L358.2 70.8 L360 71 L361.8 71.3 L363.6 71.6 L365.5 71.9 L367.4 72.4 L369.3 72.9 L371.3 73.4 L373.2 73.9 L375.2 74.5 L377.1 75.2 L379 75.9 L381 76.6 L383 77.3 L384.9 78.1 L386.9 78.9 L388.8 79.8 L390.8 80.7 L392.8 81.6 L394.7 82.5 L396.7 83.5 L398.7 84.5 L400.7 85.5 L402.7 86.6 L404.7 87.6 L406.7 88.7 L408.7 89.8 L410.6 90.8 L412.4 91.8 L414.2 92.8 L415.9 93.8 L417.7 94.8 L419.3 95.7 L420.9 96.7 L422.4 97.6 L423.8 98.4 L425 99.1 L426 99.8 L427 100.4 L427.8 101 L428.5 101.5 L429.1 101.9 L429.6 102.4 L430.1 102.7 L430.5 103 L429.2 104.6 L428.8 104.3 L428.3 104 L427.8 103.6 L427.2 103.2 L426.5 102.7 L425.7 102.2 L424.8 101.6 L423.8 101 L422.6 100.3 L421.2 99.5 L419.7 98.7 L418.1 97.8 L416.5 96.8 L414.7 95.9 L413 94.9 L411.2 94 L409.4 93 L407.5 92 L405.5 90.9 L403.5 89.9 L401.5 88.8 L399.5 87.8 L397.5 86.8 L395.6 85.8 L393.6 84.9 L391.7 84 L389.7 83.1 L387.8 82.2 L385.8 81.4 L383.9 80.5 L382 79.8 L380.1 79.1 L378.2 78.4 L376.2 77.7 L374.3 77.1 L372.4 76.5 L370.5 76 L368.6 75.5 L366.8 75 L364.9 74.6 L363.1 74.3 L361.3 74 L359.6 73.7 L357.9 73.5 L356.1 73.3 L354.2 73.2 L352.1 73 L349.7 72.8 L347.2 72.7 L344.6 72.5 L341.9 72.3 L339.1 72.1 L336.2 72 L333.1 71.9 L329.7 72 L326.2 72.1 L322.1 72.4 L317.4 72.7 L312.4 73.2 L307.2 73.8 L302.1 74.3 L297.3 74.9 L293.1 75.4 L289.5 75.9 L286.8 76.2 L284.7 76.6 L283 76.9 L281.7 77.2 L280.6 77.5 L279.5 77.8 L278.4 78 L277.1 78.3 L275.8 78.5 L274.6 78.6 L273.4 78.7 L272.3 78.8 L271.2 78.9 L270.3 79 L269.5 79.1 L268.9 79.2Z" fill="url(#ha1)" filter="url(#b1)"/><path d="M474.2 136.3 L474.7 136.6 L475.3 137.1 L476 137.6 L476.9 138.2 L477.7 138.8 L478.7 139.5 L479.6 140.3 L480.4 141 L481 141.5 L481.6 141.9 L482.3 142.5 L483.4 143.4 L484.6 144.6 L485.9 146.2 L487.4 148.2 L489.1 150.7 L491.1 154 L493.4 158 L495.9 162.6 L498.6 167.4 L501.3 172.3 L503.8 176.9 L506 181 L507.8 184.3 L509.2 186.8 L510.2 188.5 L511.1 189.9 L511.8 191.2 L512.6 192.6 L513.3 194.1 L514.1 196 L514.9 198.2 L515.8 200.9 L516.6 203.9 L517.5 207.1 L518.4 210.5 L519.2 213.9 L520 217.3 L520.7 220.7 L521.4 224 L522 227.2 L522.6 230.4 L523.2 233.6 L523.7 236.8 L524.1 240 L524.6 243.2 L524.9 246.4 L525.2 249.6 L525.5 252.8 L525.7 256 L525.9 259.3 L526 262.6 L526 265.8 L526 269 L525.9 272.1 L525.8 275.1 L525.5 278.2 L525.2 281.3 L524.7 284.4 L524.2 287.4 L523.6 290.2 L523.2 292.7 L522.8 294.7 L522.5 296.3 L527.5 297.4 L513.3 318.2 L508.9 291.4 L518.1 295.7 L518.3 294.1 L518.5 292 L518.8 289.5 L519.1 286.7 L519.4 283.8 L519.6 280.7 L519.8 277.8 L519.8 274.9 L519.7 272.1 L519.6 269.1 L519.4 266 L519.2 262.9 L518.9 259.8 L518.6 256.6 L518.2 253.5 L517.8 250.4 L517.3 247.4 L516.8 244.3 L516.2 241.3 L515.5 238.2 L514.9 235.2 L514.2 232.1 L513.4 229.1 L512.6 226 L511.8 222.9 L510.9 219.6 L509.9 216.3 L509 213 L508 209.9 L507 206.9 L506 204.2 L505.1 201.8 L504.3 199.9 L503.7 198.6 L503.2 197.7 L502.6 196.8 L501.9 195.7 L500.9 194.3 L499.7 192.3 L498.2 189.7 L496.3 186.3 L494.1 182.2 L491.5 177.6 L488.9 172.7 L486.3 167.9 L483.8 163.4 L481.5 159.5 L479.7 156.5 L478.4 154.4 L477.3 152.9 L476.5 152 L475.8 151.3 L475.2 150.8 L474.5 150.1 L473.5 149.2 L472.6 148 L471.8 146.8 L471.2 145.8 L470.6 144.7 L470.1 143.7 L469.7 142.8 L469.4 142 L469.1 141.3 L468.8 140.7Z" fill="url(#ga2)"/><path d="M470.7 139.2 L471 139.6 L471.4 140.2 L471.9 141 L472.5 141.8 L473.1 142.6 L473.8 143.6 L474.5 144.5 L475.3 145.5 L476.2 146.5 L477 147.2 L477.7 147.9 L478.5 148.5 L479.3 149.4 L480.3 150.6 L481.5 152.2 L483 154.5 L484.9 157.6 L487.1 161.5 L489.7 166 L492.3 170.9 L494.9 175.7 L497.5 180.3 L499.7 184.4 L501.6 187.8 L503 190.3 L504.2 192.3 L505.1 193.7 L505.8 194.9 L506.5 195.9 L507.1 197.1 L507.7 198.5 L508.5 200.5 L509.4 203 L510.4 205.9 L511.3 208.9 L512.2 212.1 L513.2 215.5 L514.1 218.8 L514.9 222.1 L515.7 225.3 L516.4 228.4 L517.1 231.5 L517.8 234.6 L518.4 237.7 L519 240.8 L519.5 243.9 L520 247 L520.4 250.1 L520.8 253.3 L521.1 256.4 L521.4 259.6 L521.6 262.8 L521.7 266 L521.9 269 L521.9 272.1 L521.9 275 L521.8 277.9 L521.6 280.9 L521.2 284 L520.9 287 L520.5 289.7 L520.1 292.2 L519.8 294.3 L519.6 295.9 L518.1 295.7 L518.3 294.1 L518.5 292 L518.8 289.5 L519.1 286.7 L519.4 283.8 L519.6 280.7 L519.8 277.8 L519.8 274.9 L519.7 272.1 L519.6 269.1 L519.4 266 L519.2 262.9 L518.9 259.8 L518.6 256.6 L518.2 253.5 L517.8 250.4 L517.3 247.4 L516.8 244.3 L516.2 241.3 L515.5 238.2 L514.9 235.2 L514.2 232.1 L513.4 229.1 L512.6 226 L511.8 222.9 L510.9 219.6 L509.9 216.3 L509 213 L508 209.9 L507 206.9 L506 204.2 L505.1 201.8 L504.3 199.9 L503.7 198.6 L503.2 197.7 L502.6 196.8 L501.9 195.7 L500.9 194.3 L499.7 192.3 L498.2 189.7 L496.3 186.3 L494.1 182.2 L491.5 177.6 L488.9 172.7 L486.3 167.9 L483.8 163.4 L481.5 159.5 L479.7 156.5 L478.4 154.4 L477.3 152.9 L476.5 152 L475.8 151.3 L475.2 150.8 L474.5 150.1 L473.5 149.2 L472.6 148 L471.8 146.8 L471.2 145.8 L470.6 144.7 L470.1 143.7 L469.7 142.8 L469.4 142 L469.1 141.3 L468.8 140.7Z" fill="url(#ha2)" filter="url(#b1)"/><path d="M488.9 366.6 L488.7 367 L488.5 367.5 L488.3 368.1 L488 368.9 L487.5 369.7 L486.9 370.8 L486 372 L484.8 373.3 L483.4 374.9 L481.7 376.6 L479.8 378.5 L477.8 380.5 L475.5 382.6 L473.2 384.9 L470.8 387.2 L468.4 389.6 L465.9 392.1 L463.2 394.8 L460.3 397.7 L457.4 400.7 L454.4 403.6 L451.3 406.6 L448.3 409.5 L445.3 412.2 L442.4 414.7 L439.4 417.2 L436.5 419.7 L433.5 422.1 L430.6 424.5 L427.6 426.7 L424.6 428.9 L421.6 430.9 L418.6 432.8 L415.6 434.6 L412.6 436.3 L409.6 437.8 L406.7 439.3 L403.6 440.7 L400.6 442 L397.6 443.1 L394.5 444.2 L391.3 445.1 L388.1 445.9 L384.9 446.5 L381.8 447.1 L378.9 447.6 L376.1 448 L373.6 448.4 L371.3 448.8 L369.1 449.1 L367.1 449.3 L365.2 449.5 L363.4 449.6 L361.7 449.7 L360 449.7 L358.2 449.8 L356.3 449.8 L354.3 449.9 L352.3 449.9 L350.4 449.8 L348.6 449.8 L347 449.8 L345.7 449.7 L344.6 449.7 L346.9 456.5 L323.2 448 L348.4 437 L344.6 445.5 L345.6 445.4 L346.9 445.4 L348.5 445.3 L350.3 445.2 L352.2 445.1 L354.1 445 L356 444.8 L357.8 444.6 L359.5 444.4 L361.2 444.2 L362.9 444 L364.6 443.7 L366.3 443.4 L368.2 443.1 L370.2 442.7 L372.4 442.2 L374.9 441.6 L377.6 441 L380.4 440.3 L383.3 439.6 L386.3 438.8 L389.2 437.9 L392 436.9 L394.8 435.9 L397.5 434.7 L400.3 433.4 L403 432 L405.8 430.5 L408.5 429 L411.3 427.3 L414 425.6 L416.8 423.7 L419.6 421.8 L422.3 419.7 L425.1 417.5 L427.9 415.2 L430.8 412.9 L433.6 410.4 L436.5 407.9 L439.3 405.4 L442.2 402.8 L445.1 400.1 L448.1 397.2 L451.1 394.3 L454.1 391.4 L457 388.6 L459.8 385.9 L462.4 383.4 L464.9 381 L467.3 378.7 L469.7 376.5 L471.9 374.4 L474 372.4 L475.9 370.6 L477.7 369 L479.2 367.7 L480.4 366.6 L481.5 365.7 L482.4 365.1 L483.1 364.6 L483.7 364.3 L484.2 364 L484.7 363.7 L485.1 363.4Z" fill="url(#ga3)"/><path d="M486.4 364.5 L486.1 364.8 L485.7 365.2 L485.3 365.6 L484.8 366.1 L484.2 366.7 L483.4 367.5 L482.4 368.5 L481.2 369.7 L479.7 371.1 L477.9 372.7 L476 374.5 L474 376.5 L471.7 378.7 L469.4 380.9 L467 383.2 L464.5 385.6 L461.9 388.1 L459.2 390.8 L456.3 393.6 L453.3 396.5 L450.3 399.5 L447.3 402.4 L444.3 405.2 L441.4 407.8 L438.5 410.3 L435.6 412.8 L432.8 415.3 L429.9 417.6 L427 420 L424.2 422.2 L421.3 424.3 L418.5 426.2 L415.6 428.1 L412.8 429.9 L410 431.5 L407.1 433.1 L404.3 434.6 L401.5 436 L398.6 437.2 L395.8 438.4 L392.9 439.5 L389.9 440.4 L386.9 441.3 L383.9 442 L380.9 442.7 L378 443.3 L375.3 443.8 L372.8 444.4 L370.6 444.8 L368.5 445.2 L366.6 445.5 L364.8 445.7 L363.1 445.9 L361.4 446.1 L359.7 446.3 L357.9 446.4 L356.1 446.6 L354.2 446.7 L352.2 446.8 L350.3 446.8 L348.6 446.9 L347 446.9 L345.6 446.9 L344.6 447 L344.6 445.5 L345.6 445.4 L346.9 445.4 L348.5 445.3 L350.3 445.2 L352.2 445.1 L354.1 445 L356 444.8 L357.8 444.6 L359.5 444.4 L361.2 444.2 L362.9 444 L364.6 443.7 L366.3 443.4 L368.2 443.1 L370.2 442.7 L372.4 442.2 L374.9 441.6 L377.6 441 L380.4 440.3 L383.3 439.6 L386.3 438.8 L389.2 437.9 L392 436.9 L394.8 435.9 L397.5 434.7 L400.3 433.4 L403 432 L405.8 430.5 L408.5 429 L411.3 427.3 L414 425.6 L416.8 423.7 L419.6 421.8 L422.3 419.7 L425.1 417.5 L427.9 415.2 L430.8 412.9 L433.6 410.4 L436.5 407.9 L439.3 405.4 L442.2 402.8 L445.1 400.1 L448.1 397.2 L451.1 394.3 L454.1 391.4 L457 388.6 L459.8 385.9 L462.4 383.4 L464.9 381 L467.3 378.7 L469.7 376.5 L471.9 374.4 L474 372.4 L475.9 370.6 L477.7 369 L479.2 367.7 L480.4 366.6 L481.5 365.7 L482.4 365.1 L483.1 364.6 L483.7 364.3 L484.2 364 L484.7 363.7 L485.1 363.4Z" fill="url(#ha3)" filter="url(#b1)"/><path d="M290.4 444.4 L289.9 444.5 L289.3 444.6 L288.5 444.7 L287.6 444.8 L286.5 444.9 L285.4 444.9 L284.1 444.8 L282.8 444.6 L281.4 444.4 L280.1 444.1 L278.7 443.8 L277.1 443.4 L275.4 442.9 L273.6 442.3 L271.5 441.7 L269.3 441 L266.7 440.2 L263.8 439.3 L260.6 438.4 L257.2 437.3 L253.7 436.2 L250.1 434.8 L246.6 433.4 L243.3 431.7 L240.2 429.9 L237.3 427.9 L234.5 425.7 L231.8 423.5 L229.2 421.3 L226.7 419.1 L224.2 417 L221.8 415 L219.3 413 L216.8 411 L214.3 409 L211.8 407 L209.3 405 L206.8 402.9 L204.3 400.8 L201.9 398.6 L199.5 396.3 L197.1 393.9 L194.7 391.5 L192.4 389 L190.1 386.5 L187.8 384 L185.7 381.5 L183.8 379 L181.9 376.5 L180.2 374.1 L178.6 371.6 L177 369.1 L175.6 366.6 L174.2 364.2 L172.9 361.8 L171.6 359.3 L170.3 356.8 L169 354.2 L167.7 351.5 L166.6 348.9 L165.5 346.3 L164.4 344 L163.5 341.9 L162.7 340.1 L162 338.7 L161.4 337.5 L160.8 336.4 L160.4 335.6 L160 334.9 L159.6 334.3 L159.3 333.7 L159 333.2 L152.9 336.5 L154.5 312 L172.8 332.5 L163 330.8 L163.2 331.2 L163.6 331.7 L164 332.3 L164.5 333 L165.1 333.8 L165.8 334.9 L166.6 336.2 L167.5 337.7 L168.5 339.5 L169.6 341.5 L170.8 343.8 L172 346.2 L173.3 348.8 L174.7 351.3 L176 353.7 L177.4 356.1 L178.8 358.3 L180.3 360.6 L181.7 362.9 L183.2 365.2 L184.7 367.4 L186.4 369.7 L188.1 371.9 L189.8 374.2 L191.8 376.4 L193.8 378.8 L196 381.1 L198.2 383.4 L200.5 385.8 L202.8 388.1 L205.2 390.3 L207.5 392.4 L209.8 394.5 L212.2 396.5 L214.6 398.4 L217 400.3 L219.5 402.2 L222 404.2 L224.6 406.1 L227.2 408 L229.9 410.1 L232.5 412.2 L235.1 414.3 L237.6 416.3 L240.2 418.2 L242.8 420 L245.3 421.6 L247.9 423.1 L250.6 424.4 L253.7 425.6 L256.9 426.7 L260.2 427.8 L263.5 428.7 L266.7 429.7 L269.7 430.6 L272.3 431.4 L274.6 432.2 L276.6 432.9 L278.4 433.5 L280 434 L281.4 434.5 L282.8 435 L284 435.5 L285.2 436 L286.3 436.5 L287.3 437 L288.3 437.5 L289.1 438 L289.8 438.5 L290.5 438.9 L291.1 439.3 L291.6 439.6Z" fill="url(#ga4)"/><path d="M291.2 441.3 L290.7 441.1 L290.1 440.9 L289.4 440.7 L288.6 440.4 L287.7 440.1 L286.6 439.8 L285.6 439.4 L284.4 439 L283.1 438.6 L281.8 438.2 L280.4 437.8 L279 437.3 L277.3 436.8 L275.5 436.2 L273.5 435.5 L271.3 434.8 L268.6 433.9 L265.7 433.1 L262.5 432.1 L259.1 431.1 L255.8 430 L252.4 428.8 L249.2 427.5 L246.3 426.1 L243.5 424.5 L240.8 422.7 L238.2 420.8 L235.6 418.8 L233 416.7 L230.5 414.6 L227.9 412.5 L225.3 410.5 L222.7 408.5 L220.2 406.5 L217.7 404.6 L215.2 402.7 L212.7 400.7 L210.3 398.7 L207.9 396.7 L205.5 394.6 L203.2 392.4 L200.8 390.1 L198.5 387.8 L196.2 385.4 L193.9 383 L191.7 380.6 L189.7 378.2 L187.7 375.9 L185.9 373.5 L184.2 371.2 L182.6 368.9 L181 366.6 L179.6 364.2 L178.1 361.9 L176.7 359.5 L175.4 357.2 L174 354.8 L172.7 352.3 L171.4 349.7 L170.1 347.2 L168.9 344.7 L167.8 342.4 L166.7 340.3 L165.8 338.5 L165 337 L164.3 335.8 L163.6 334.7 L163.1 333.9 L162.6 333.2 L162.2 332.6 L161.9 332.1 L161.6 331.6 L163 330.8 L163.2 331.2 L163.6 331.7 L164 332.3 L164.5 333 L165.1 333.8 L165.8 334.9 L166.6 336.2 L167.5 337.7 L168.5 339.5 L169.6 341.5 L170.8 343.8 L172 346.2 L173.3 348.8 L174.7 351.3 L176 353.7 L177.4 356.1 L178.8 358.3 L180.3 360.6 L181.7 362.9 L183.2 365.2 L184.7 367.4 L186.4 369.7 L188.1 371.9 L189.8 374.2 L191.8 376.4 L193.8 378.8 L196 381.1 L198.2 383.4 L200.5 385.8 L202.8 388.1 L205.2 390.3 L207.5 392.4 L209.8 394.5 L212.2 396.5 L214.6 398.4 L217 400.3 L219.5 402.2 L222 404.2 L224.6 406.1 L227.2 408 L229.9 410.1 L232.5 412.2 L235.1 414.3 L237.6 416.3 L240.2 418.2 L242.8 420 L245.3 421.6 L247.9 423.1 L250.6 424.4 L253.7 425.6 L256.9 426.7 L260.2 427.8 L263.5 428.7 L266.7 429.7 L269.7 430.6 L272.3 431.4 L274.6 432.2 L276.6 432.9 L278.4 433.5 L280 434 L281.4 434.5 L282.8 435 L284 435.5 L285.2 436 L286.3 436.5 L287.3 437 L288.3 437.5 L289.1 438 L289.8 438.5 L290.5 438.9 L291.1 439.3 L291.6 439.6Z" fill="url(#ha4)" filter="url(#b1)"/><path d="M143.2 275 L143.1 274.4 L142.9 273.6 L142.7 272.7 L142.5 271.6 L142.3 270.4 L142.1 269.1 L141.9 267.6 L141.8 265.9 L141.7 264.1 L141.6 262.2 L141.5 260.1 L141.5 257.8 L141.4 255.3 L141.5 252.7 L141.5 250 L141.7 247.2 L141.9 244.2 L142.1 240.9 L142.4 237.4 L142.8 233.9 L143.2 230.3 L143.6 227 L144 223.9 L144.4 221.2 L144.8 218.9 L145.2 216.9 L145.6 215.3 L146.1 213.9 L146.5 212.7 L146.9 211.5 L147.3 210.3 L147.7 208.8 L148.1 207.1 L148.5 205.2 L148.9 203.1 L149.3 200.9 L149.8 198.6 L150.4 196.1 L151.1 193.5 L151.9 190.8 L152.9 188.1 L153.9 185.3 L155 182.4 L156.1 179.4 L157.4 176.3 L158.8 173.3 L160.3 170.2 L161.9 167.2 L163.7 164.2 L165.7 161.1 L167.7 158.1 L169.9 155.1 L172 152.2 L174.1 149.4 L176.2 146.8 L178.1 144.3 L180 141.9 L181.8 139.6 L183.6 137.4 L185.4 135.3 L187.2 133.4 L188.9 131.5 L190.6 129.8 L192.3 128.1 L194 126.5 L195.9 125 L197.7 123.7 L199.4 122.4 L201 121.4 L202.4 120.4 L203.6 119.7 L204.5 119 L199.9 114.5 L223.1 107.6 L210.3 130.9 L207.1 122.6 L206.2 123.3 L205.1 124.2 L203.7 125.2 L202.3 126.3 L200.7 127.6 L199.1 129 L197.6 130.4 L196.1 131.9 L194.6 133.5 L193.1 135.3 L191.6 137.2 L190 139.1 L188.4 141.2 L186.8 143.4 L185.1 145.7 L183.5 148.1 L181.7 150.7 L179.9 153.5 L178.1 156.4 L176.2 159.4 L174.4 162.4 L172.7 165.4 L171.1 168.4 L169.7 171.2 L168.3 174 L167.1 176.9 L166 179.8 L164.9 182.8 L163.9 185.6 L162.9 188.5 L162.1 191.2 L161.3 193.8 L160.6 196.1 L160.1 198.4 L159.6 200.6 L159.2 202.8 L158.9 204.9 L158.5 207 L158.1 209.1 L157.7 211.2 L157.2 213.1 L156.8 214.6 L156.3 216 L156 217.1 L155.6 218.2 L155.3 219.4 L155 220.9 L154.6 222.8 L154.3 225.3 L153.9 228.2 L153.5 231.5 L153.2 234.9 L152.8 238.4 L152.5 241.9 L152.2 245.1 L151.9 248 L151.7 250.6 L151.6 253.1 L151.4 255.6 L151.3 257.9 L151.2 260.2 L151.1 262.3 L151 264.3 L150.8 266.1 L150.6 267.7 L150.4 269.2 L150.2 270.5 L149.9 271.7 L149.7 272.7 L149.5 273.6 L149.3 274.4 L149.2 275Z" fill="url(#ga5)"/><path d="M147.1 275 L147.1 274.4 L147.2 273.6 L147.3 272.7 L147.3 271.7 L147.4 270.5 L147.5 269.1 L147.6 267.7 L147.6 266 L147.7 264.2 L147.8 262.2 L147.8 260.1 L147.9 257.9 L147.9 255.5 L148 253 L148.2 250.4 L148.3 247.7 L148.6 244.8 L148.9 241.5 L149.2 238.1 L149.5 234.6 L149.9 231.1 L150.3 227.8 L150.7 224.8 L151 222.2 L151.4 220.2 L151.8 218.5 L152.1 217.2 L152.5 216 L152.9 214.8 L153.3 213.6 L153.8 212.1 L154.2 210.4 L154.6 208.4 L155 206.4 L155.4 204.3 L155.8 202.1 L156.2 199.9 L156.7 197.6 L157.3 195.2 L158 192.7 L158.8 190.1 L159.8 187.4 L160.7 184.5 L161.8 181.6 L163 178.6 L164.2 175.6 L165.5 172.7 L167 169.8 L168.5 166.9 L170.2 163.9 L172.1 160.9 L174 157.9 L175.9 154.9 L177.9 152.1 L179.8 149.3 L181.6 146.8 L183.3 144.4 L185 142.1 L186.7 139.9 L188.4 137.8 L190 135.8 L191.6 134 L193.2 132.2 L194.8 130.6 L196.3 129 L198 127.6 L199.6 126.2 L201.3 125 L202.8 123.8 L204.2 122.8 L205.3 122 L206.2 121.3 L207.1 122.6 L206.2 123.3 L205.1 124.2 L203.7 125.2 L202.3 126.3 L200.7 127.6 L199.1 129 L197.6 130.4 L196.1 131.9 L194.6 133.5 L193.1 135.3 L191.6 137.2 L190 139.1 L188.4 141.2 L186.8 143.4 L185.1 145.7 L183.5 148.1 L181.7 150.7 L179.9 153.5 L178.1 156.4 L176.2 159.4 L174.4 162.4 L172.7 165.4 L171.1 168.4 L169.7 171.2 L168.3 174 L167.1 176.9 L166 179.8 L164.9 182.8 L163.9 185.6 L162.9 188.5 L162.1 191.2 L161.3 193.8 L160.6 196.1 L160.1 198.4 L159.6 200.6 L159.2 202.8 L158.9 204.9 L158.5 207 L158.1 209.1 L157.7 211.2 L157.2 213.1 L156.8 214.6 L156.3 216 L156 217.1 L155.6 218.2 L155.3 219.4 L155 220.9 L154.6 222.8 L154.3 225.3 L153.9 228.2 L153.5 231.5 L153.2 234.9 L152.8 238.4 L152.5 241.9 L152.2 245.1 L151.9 248 L151.7 250.6 L151.6 253.1 L151.4 255.6 L151.3 257.9 L151.2 260.2 L151.1 262.3 L151 264.3 L150.8 266.1 L150.6 267.7 L150.4 269.2 L150.2 270.5 L149.9 271.7 L149.7 272.7 L149.5 273.6 L149.3 274.4 L149.2 275Z" fill="url(#ha5)" filter="url(#b1)"/>
<circle cx="338.7" cy="38" r="23.7" fill="url(#bred)"/><circle cx="549" cy="203" r="23.3" fill="url(#bgrn)"/><circle cx="468.3" cy="440.5" r="23.4" fill="url(#bgld)"/><circle cx="203" cy="439.5" r="23.4" fill="url(#bgry)"/><circle cx="118" cy="203.5" r="23.6" fill="url(#bblk)"/><circle cx="468.3" cy="440.5" r="22.6" fill="none" stroke="url(#grim)" stroke-width="1.8"/>
<text x="339.8" y="47.3" text-anchor="middle" class="bt" fill="#000" opacity=".35">心</text><text x="339" y="46.5" text-anchor="middle" class="bt" fill="#fff">心</text><text x="550.3" y="211.8" text-anchor="middle" class="bt" fill="#000" opacity=".35">肝</text><text x="549.5" y="211.0" text-anchor="middle" class="bt" fill="#fff">肝</text><text x="469.1" y="449.8" text-anchor="middle" class="bt" fill="#000" opacity=".35">脾</text><text x="468.3" y="449.0" text-anchor="middle" class="bt" fill="#fff">脾</text><text x="203.8" y="448.3" text-anchor="middle" class="bt" fill="#000" opacity=".35">肺</text><text x="203" y="447.5" text-anchor="middle" class="bt" fill="#fff">肺</text><text x="119.8" y="212.3" text-anchor="middle" class="bt" fill="#000" opacity=".35">肾</text><text x="119" y="211.5" text-anchor="middle" class="bt" fill="#fff">肾</text>
<g transform="translate(335.3 87.6) rotate(0)"><text x="0" y="0" text-anchor="middle" class="lb" font-size="14.5">赤</text><text x="0" y="15.6" text-anchor="middle" class="lb" font-size="14.5">芝</text><text x="0" y="31.2" text-anchor="middle" class="lb" font-size="14.5">补</text><text x="0" y="46.8" text-anchor="middle" class="lb" font-size="14.5">心</text><text x="0" y="62.4" text-anchor="middle" class="lb" font-size="14.5">脏</text></g><g transform="translate(257 343.5) rotate(20.5)"><text x="0" y="0" text-anchor="middle" class="lb" font-size="14.5">白</text><text x="0" y="15.6" text-anchor="middle" class="lb" font-size="14.5">芝</text><text x="0" y="31.2" text-anchor="middle" class="lb" font-size="14.5">补</text><text x="0" y="46.8" text-anchor="middle" class="lb" font-size="14.5">肺</text></g><g transform="translate(393.5 340) rotate(-34)"><text x="0" y="0" text-anchor="middle" class="lb" font-size="14.5">黄</text><text x="0" y="16.2" text-anchor="middle" class="lb" font-size="14.5">芝</text><text x="0" y="32.4" text-anchor="middle" class="lb" font-size="14.5">补</text><text x="0" y="48.6" text-anchor="middle" class="lb" font-size="14.5">脾</text><text x="0" y="64.8" text-anchor="middle" class="lb" font-size="14.5">胃</text></g><text x="185" y="221" class="lb" font-size="14.5" letter-spacing="1">黑芝补肾</text><text x="424.5" y="226.8" class="lb" font-size="14.5" letter-spacing=".7">青芝补肝</text>
<text x="492.5" y="446" class="wm" stroke="#fff" stroke-width="3" stroke-linejoin="round">华夏寺庙文化网</text>
<text x="492.5" y="446" class="wm" stroke="#111" stroke-width=".45">华夏寺庙文化网</text>
<text x="512" y="464.5" class="url" textLength="118" lengthAdjust="spacingAndGlyphs">www.zgsm.net</text>
</svg>
</body></html>
